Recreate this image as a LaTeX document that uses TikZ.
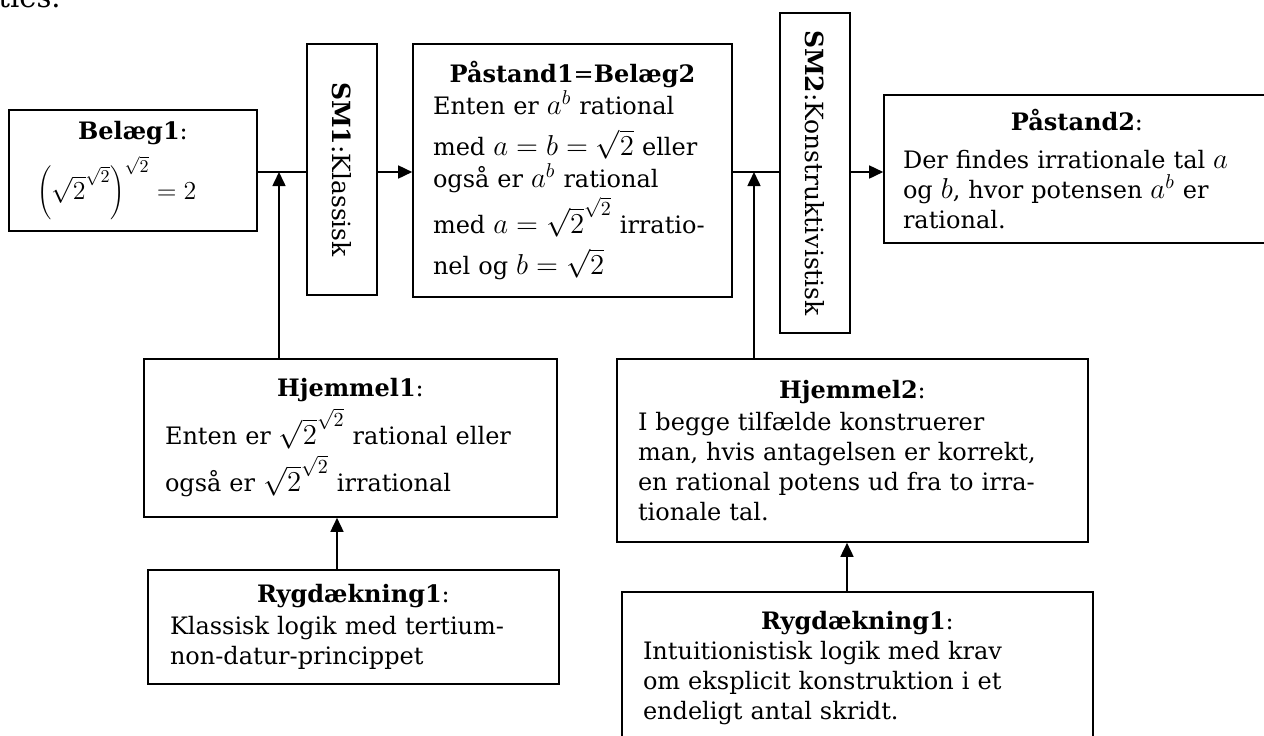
\documentclass[tikz,border=0pt]{standalone}
\usepackage{fontspec}
\setmainfont{DejaVu Serif}
\usetikzlibrary{arrows.meta}
\DeclareMathSizes{12}{14.4}{10}{7}

\newcommand{\titel}[2][1pt]{{\centering #2\par}\vspace{#1}}

\begin{document}
\begin{tikzpicture}[x=0.5pt, y=-0.5pt, font=\fontsize{12}{15}\selectfont,
    execute at begin node={\setlength{\lineskiplimit}{-20pt}\setlength{\baselineskip}{15pt}},
    boks/.style={draw, line width=0.8pt, align=left, inner ysep=0pt},
    lodret/.style={draw, line width=0.8pt, minimum width=35pt, inner sep=0pt, font=\fontsize{12.5}{15}\selectfont},
    pil/.style={-{Triangle[length=7pt, width=6.5pt]}, line width=0.8pt}]
    \useasboundingbox (0,0) rectangle (1264,735);
    \clip (0,0) rectangle (1264,735);

    \node[anchor=base west, inner sep=0pt, font=\fontsize{14.5}{16}\selectfont] (T) at (-2,7) {ties.};

    \node[boks, text width=96pt, inner xsep=14pt, minimum height=60.5pt] (B1) at (133,170.5)
        {\titel[15pt]{\textbf{Belæg1}:}\scalebox{0.9}{$\left(\sqrt{2}^{\sqrt{2}}\right)^{\sqrt{2}} = 2$}};
    \node[lodret, minimum height=125.5pt] (SM1) at (342,169.5) {\rotatebox{-90}{\textbf{SM1}:Klassisk}};
    \node[boks, text width=139.5pt, inner xsep=10pt, minimum height=126.5pt] (P1) at (572.5,170.5)
        {\titel{\textbf{Påstand1}=\textbf{Belæg2}}Enten er $a^b$ rational\\[5.5pt]
         med $a = b = \sqrt{2}$ eller\\[1pt]
         også er $a^b$ rational\\[8pt]
         med $a = \sqrt{2}^{\sqrt{2}}$ irratio-\\[5.5pt]
         nel og $b = \sqrt{2}$};
    \node[lodret, minimum height=160pt] (SM2) at (815,173) {\rotatebox{-90}{\textbf{SM2}:Konstruktivistisk}};
    \node[boks, text width=174pt, inner xsep=9.5pt, minimum height=74pt] (P2) at (1077,169)
        {\titel[4pt]{\textbf{Påstand2}:}Der findes irrationale tal $a$\\
         og $b$, hvor potensen $a^b$ er\\
         rational.};

    \node[boks, text width=185.5pt, inner xsep=10.5pt, minimum height=79pt] (H1) at (350.5,438)
        {\titel[9pt]{\textbf{Hjemmel1}:}Enten er $\sqrt{2}^{\sqrt{2}}$ rational eller\\[8.5pt]
         også er $\sqrt{2}^{\sqrt{2}}$ irrational};
    \node[boks, text width=183.5pt, inner xsep=11pt, minimum height=57pt] (R1) at (353.5,627)
        {\titel{\textbf{Rygdækning1}:}Klassisk logik med tertium-\\
         non-datur-princippet};
    \node[boks, text width=214.5pt, inner xsep=10.5pt, minimum height=91.5pt] (H2) at (852.5,450.5)
        {\titel{\textbf{Hjemmel2}:}I begge tilfælde konstruerer\\
         man, hvis antagelsen er korrekt,\\
         en rational potens ud fra to irra-\\
         tionale tal.};
    \node[boks, text width=214.5pt, inner xsep=10.5pt, minimum height=76.5pt] (R2) at (857.5,668.5)
        {\titel[0pt]{\textbf{Rygdækning1}:}Intuitionistisk logik med krav\\
         om eksplicit konstruktion i et\\
         endeligt antal skridt.};

    % knudepunkter paa hovedlinjen
    \coordinate (j1) at (279,172);
    \coordinate (j2) at (754,172);

    \draw[line width=0.8pt] (B1.east |- j1) -- (SM1.west |- j1);
    \draw[pil] (SM1.east |- j1) -- (P1.west |- j1);
    \draw[line width=0.8pt] (P1.east |- j2) -- (SM2.west |- j2);
    \draw[pil] (SM2.east |- j2) -- (P2.west |- j2);
    \draw[pil] (H1.north -| j1) -- (j1);
    \draw[pil] (H2.north -| j2) -- (j2);
    \draw[pil] ([xshift=-8.25pt]R1.north) -- ([xshift=-8.25pt]R1.north |- H1.south);
    \draw[pil] ([xshift=-5.25pt]R2.north) -- ([xshift=-5.25pt]R2.north |- H2.south);
\end{tikzpicture}
\end{document}
